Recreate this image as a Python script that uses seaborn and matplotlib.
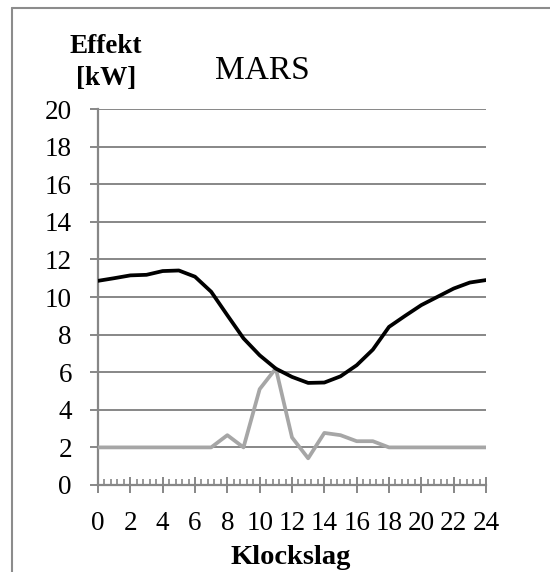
import numpy as np
import pandas as pd
import matplotlib
matplotlib.use("Agg")
import matplotlib.pyplot as plt
from matplotlib.ticker import MultipleLocator
from matplotlib.lines import Line2D
import seaborn as sns

hours = list(range(25))
total_kw = [10.86, 11.0, 11.15, 11.18, 11.38, 11.41, 11.08, 10.28, 9.03, 7.8, 6.9,
            6.19, 5.75, 5.43, 5.45, 5.78, 6.37, 7.2, 8.41, 9.0, 9.57, 10.01, 10.45, 10.77, 10.9]
other_kw = [2.0, 2.0, 2.0, 2.0, 2.0, 2.0, 2.0, 2.0, 2.65, 2.0, 5.1,
            6.2, 2.53, 1.42, 2.77, 2.65, 2.33, 2.33, 2.0, 2.0, 2.0, 2.0, 2.0, 2.0, 2.0]
y_ticks = list(range(0, 21, 2))
x_ticks = list(range(0, 25, 2))

sns.set_theme(style="white")
plt.rcParams['font.family'] = ['Liberation Serif', 'DejaVu Serif']

W, H = 550, 572
fig = plt.figure(figsize=(W / 100, H / 100), dpi=100)
left, right, top, bottom = 98, 486, 109, 485
ax = fig.add_axes([left / W, 1 - bottom / H, (right - left) / W, (bottom - top) / H])

df = pd.DataFrame({"h": hours, "a": total_kw, "b": other_kw})
sns.lineplot(data=df, x="h", y="b", ax=ax, color="#A6A6A6", lw=2.7, zorder=3)
sns.lineplot(data=df, x="h", y="a", ax=ax, color="#000000", lw=2.7, zorder=4)

grid_c = "#878787"
ax.set_xlim(0, 24)
ax.set_ylim(0, 20)
ax.set_xticks(x_ticks)
ax.set_yticks(y_ticks)
ax.xaxis.set_minor_locator(MultipleLocator(0.4))
ax.set_xlabel("")
ax.set_ylabel("")
ax.yaxis.grid(True, color=grid_c, lw=1.4)
ax.xaxis.grid(False)
ax.set_axisbelow(True)
for s in ["top", "right"]:
    ax.spines[s].set_visible(False)
for s in ["left", "bottom"]:
    ax.spines[s].set_visible(True)
    ax.spines[s].set_color(grid_c)
    ax.spines[s].set_linewidth(1.6)
ax.tick_params(axis="y", which="major", direction="out", length=5.8, width=1.4,
               color=grid_c, labelsize=19.5, pad=13, left=True)
ax.tick_params(axis="x", which="major", direction="inout", length=11.5, width=1.4,
               color=grid_c, labelsize=19.5, pad=13, bottom=True)
ax.tick_params(axis="x", which="minor", direction="in", length=4.6, width=1.2,
               color=grid_c, bottom=True)
for lab in ax.get_xticklabels() + ax.get_yticklabels():
    lab.set_color("black")

fig.text(262 / W, 1 - 79 / H, "MARS", ha="center", va="baseline", fontsize=24, color="black")
fig.text(106 / W, 1 - 53 / H, "Effekt", ha="center", va="baseline", fontsize=19.5,
         fontweight="bold", color="black")
fig.text(106 / W, 1 - 85 / H, "[kW]", ha="center", va="baseline", fontsize=19.5,
         fontweight="bold", color="black")
fig.text(291 / W, 1 - 564 / H, "Klockslag", ha="center", va="baseline", fontsize=20.5,
         fontweight="bold", color="black")

# outer chart-area border (top and left edges visible)
fig.add_artist(Line2D([12 / W, 1], [1 - 8 / H, 1 - 8 / H], transform=fig.transFigure,
                      color="#8C8C8C", lw=1.5))
fig.add_artist(Line2D([12 / W, 12 / W], [1 - 8 / H, 0], transform=fig.transFigure,
                      color="#8C8C8C", lw=1.5))

fig.savefig("out.png", dpi=100)
